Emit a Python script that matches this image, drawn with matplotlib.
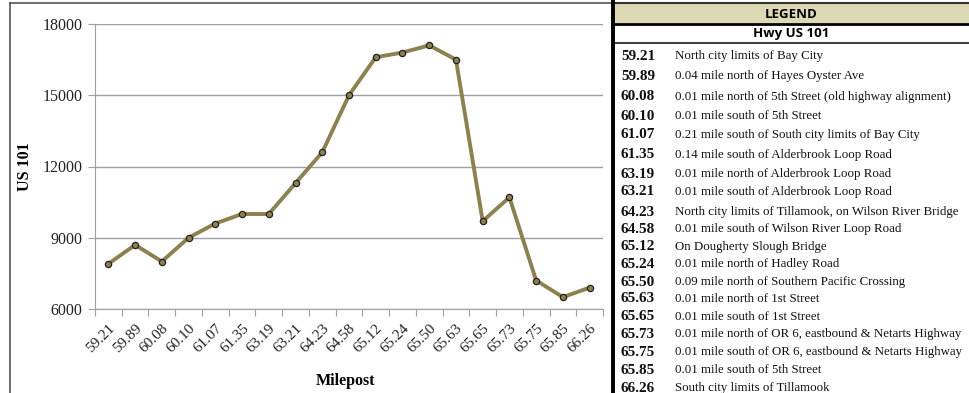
import matplotlib
matplotlib.use("Agg")
import matplotlib.pyplot as plt
from matplotlib.patches import Rectangle
from matplotlib.lines import Line2D

mileposts = ["59.21", "59.89", "60.08", "60.10", "61.07", "61.35", "63.19", "63.21",
             "64.23", "64.58", "65.12", "65.24", "65.50", "65.63", "65.65", "65.73",
             "65.75", "65.85", "66.26"]
volumes = [7900, 8700, 8000, 9000, 9600, 10000, 10000, 11300,
           12600, 15000, 16600, 16800, 17100, 16500, 9700, 10700,
           7200, 6500, 6900]
descriptions = [
    "North city limits of Bay City",
    "0.04 mile north of Hayes Oyster Ave",
    "0.01 mile north of 5th Street (old highway alignment)",
    "0.01 mile south of 5th Street",
    "0.21 mile south of South city limits of Bay City",
    "0.14 mile south of Alderbrook Loop Road",
    "0.01 mile north of Alderbrook Loop Road",
    "0.01 mile south of Alderbrook Loop Road",
    "North city limits of Tillamook, on Wilson River Bridge",
    "0.01 mile south of Wilson River Loop Road",
    "On Dougherty Slough Bridge",
    "0.01 mile north of Hadley Road",
    "0.09 mile north of Southern Pacific Crossing",
    "0.01 mile north of 1st Street",
    "0.01 mile south of 1st Street",
    "0.01 mile north of OR 6, eastbound & Netarts Highway",
    "0.01 mile south of OR 6, eastbound & Netarts Highway",
    "0.01 mile south of 5th Street",
    "South city limits of Tillamook",
]
y_ticks = [6000, 9000, 12000, 15000, 18000]

W, H = 970, 393
fig = plt.figure(figsize=(W / 100, H / 100), dpi=100)
fig.patch.set_facecolor("white")

def fx(x):
    return x / W

def fy(y):
    return 1 - y / H

SERIF = ["Liberation Serif", "DejaVu Serif"]
SANS = ["Open Sans", "DejaVu Sans"]

# chart frame
fig.add_artist(Line2D([fx(10), fx(10)], [fy(3), fy(400)], color="#555555", lw=1.2))
fig.add_artist(Line2D([fx(10), fx(612)], [fy(3), fy(3)], color="#555555", lw=1.2))

ax = fig.add_axes([fx(95), fy(309), fx(603) - fx(95), (309 - 24) / H])
n = len(mileposts)
xs = list(range(n))
ax.plot(xs, volumes, color="#8C8150", lw=2.8, marker="o", markersize=4.5,
        markerfacecolor="#8C8150", markeredgecolor="#222222", markeredgewidth=0.9,
        solid_joinstyle="miter", zorder=3)
ax.set_xlim(-0.5, n - 0.5)
ax.set_ylim(6000, 18000)
ax.set_yticks(y_ticks)
ax.set_yticklabels([str(v) for v in y_ticks], fontfamily=SERIF, fontsize=11.5, color="#222222")
ax.yaxis.grid(True, color="#a0a0a0", lw=1.0)
ax.set_axisbelow(True)
for s in ["top", "right"]:
    ax.spines[s].set_visible(False)
ax.spines["left"].set_color("#a0a0a0")
ax.spines["bottom"].set_color("#a0a0a0")
ax.tick_params(axis="y", length=5, color="#a0a0a0", pad=4)
# category boundary ticks
ax.set_xticks([i - 0.5 for i in range(n + 1)])
ax.set_xticklabels([])
ax.tick_params(axis="x", length=5, color="#a0a0a0")
ax.set_xticks(xs, minor=True)
ax.set_xticklabels(mileposts, minor=True, rotation=45, ha="right", va="top",
                   rotation_mode="anchor", fontfamily=SERIF, fontsize=11, color="#222222")
ax.tick_params(axis="x", which="minor", length=0, pad=9)
ax.set_ylabel("US 101", fontfamily=SERIF, fontweight="bold", fontsize=11.5, labelpad=7)
fig.text(fx(345), fy(381), "Milepost", fontfamily=SERIF, fontweight="bold",
         fontsize=11.5, ha="center", va="center")

# legend table
L, R = 613, 975
fig.add_artist(Rectangle((fx(L), fy(23)), fx(R) - fx(L), (23 - 3) / H,
                         facecolor="#DDD9B4", edgecolor="none"))
fig.add_artist(Line2D([fx(L), fx(R)], [fy(3), fy(3)], color="#333333", lw=1.5))
fig.add_artist(Line2D([fx(L), fx(R)], [fy(23.5), fy(23.5)], color="black", lw=2.0))
fig.add_artist(Line2D([fx(L), fx(R)], [fy(43), fy(43)], color="#444444", lw=1.5))
fig.add_artist(Line2D([fx(613), fx(613)], [fy(2), fy(400)], color="black", lw=2.8))
fig.text(fx(791), fy(14), "LEGEND", fontfamily=SANS, fontweight="bold", fontsize=9.5,
         ha="center", va="center")
fig.text(fx(791), fy(33.5), "Hwy US 101", fontfamily=SANS, fontweight="bold", fontsize=9.5,
         ha="center", va="center")
row_y = [56, 76, 97, 116, 135, 155, 174, 192, 212, 229, 247, 264, 282, 299,
         317, 334, 352, 370, 388]
for yy, mp, d in zip(row_y, mileposts, descriptions):
    fig.text(fx(621), fy(yy), mp, fontfamily=SERIF, fontweight="bold", fontsize=11,
             ha="left", va="center", color="#111111")
    fig.text(fx(675), fy(yy), d, fontfamily=SERIF, fontsize=9.3,
             ha="left", va="center", color="#111111")

fig.savefig("out.png", dpi=100)
